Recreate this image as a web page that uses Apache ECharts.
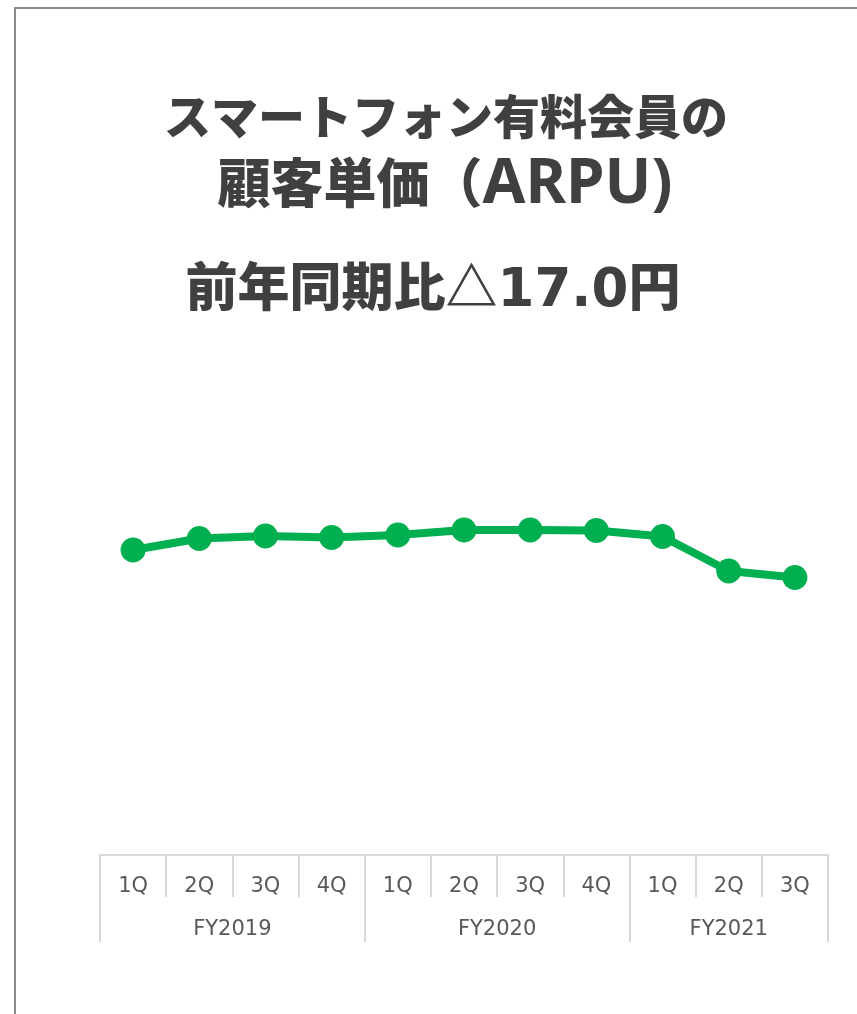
<!DOCTYPE html>
<html>
<head>
<meta charset="utf-8">
<script src="https://cdn.jsdelivr.net/npm/echarts@6/dist/echarts.min.js"></script>
<style>
  html, body { margin: 0; padding: 0; background: #fff; }
  #chart { width: 857px; height: 1014px; }
  #frame { position: absolute; left: 14px; top: 7px; right: 0; bottom: 0;
           border-left: 2px solid #8a8a8a; border-top: 2px solid #8a8a8a; pointer-events: none; }
</style>
</head>
<body>
<div id="chart"></div>
<div id="frame"></div>
<script>
// 四半期ラベル
var quarters = ['1Q', '2Q', '3Q', '4Q', '1Q', '2Q', '3Q', '4Q', '1Q', '2Q', '3Q'];
// 年度ラベル（半四半期刻み、23点）
var yearSlots = ['', '', '', '', 'FY2019', '', '', '', '', '', '', '', 'FY2020', '', '', '', '', '', '', 'FY2021', '', '', ''];
var yearBounds = [0, 8, 16, 22];
// ARPU（相対値）
var arpu = [61.0, 63.3, 63.8, 63.5, 64.0, 65.0, 65.0, 64.9, 63.7, 56.8, 55.5];

var chart = echarts.init(document.getElementById('chart'));

var titleColor = '#404040';
var cjk = 'Noto Sans CJK JP';
var option = {
    animation: false,
    title: [{
        text: 'スマートフォン有料会員の',
        left: 441,
        top: 88,
        textAlign: 'center',
        textStyle: { color: titleColor, fontSize: 47, fontWeight: 900, fontFamily: cjk, lineHeight: 47 }
    }, {
        text: '顧客単価（{lat|ARPU)}',
        left: 440,
        top: 150,
        textAlign: 'center',
        textStyle: {
            color: titleColor, fontSize: 53, fontWeight: 900, fontFamily: cjk, lineHeight: 56,
            rich: {
                lat: { color: titleColor, fontSize: 62, fontWeight: 'bold', fontFamily: 'Noto Sans', lineHeight: 56, padding: [4, 0, 0, 0] }
            }
        }
    }, {
        text: '前年同期比△{lat|17.0}円',
        left: 428,
        top: 253,
        textAlign: 'center',
        textStyle: {
            color: titleColor, fontSize: 52, fontWeight: 900, fontFamily: cjk, lineHeight: 56,
            rich: {
                lat: { color: titleColor, fontSize: 53, fontWeight: 'bold', fontFamily: 'DejaVu Sans', lineHeight: 56, padding: [12, 0, 0, 0] }
            }
        }
    }],
    grid: {
        left: 100,
        right: 29,
        top: 355,
        bottom: 159
    },
    xAxis: [{
        type: 'category',
        data: quarters,
        position: 'bottom',
        axisLine: { show: true, lineStyle: { color: '#d9d9d9', width: 2 } },
        axisTick: { show: true, interval: 0, length: 42, lineStyle: { color: '#d9d9d9', width: 2 } },
        axisLabel: { interval: 0, color: '#595959', fontSize: 21, fontFamily: 'DejaVu Sans', margin: 21 }
    }, {
        type: 'category',
        data: yearSlots,
        boundaryGap: false,
        position: 'bottom',
        axisLine: { show: false },
        axisTick: {
            show: true,
            length: 87,
            interval: function (i) { return yearBounds.indexOf(i) >= 0; },
            lineStyle: { color: '#d9d9d9', width: 2 }
        },
        axisLabel: { interval: 0, color: '#595959', fontSize: 21, fontFamily: 'DejaVu Sans', margin: 64 }
    }],
    yAxis: {
        type: 'value',
        min: 0,
        max: 100,
        show: false
    },
    series: [{
        type: 'line',
        data: arpu,
        xAxisIndex: 0,
        symbol: 'circle',
        symbolSize: 25,
        itemStyle: { color: '#00b050' },
        lineStyle: { color: '#00b050', width: 8 }
    }]
};
chart.setOption(option);
</script>
</body>
</html>
